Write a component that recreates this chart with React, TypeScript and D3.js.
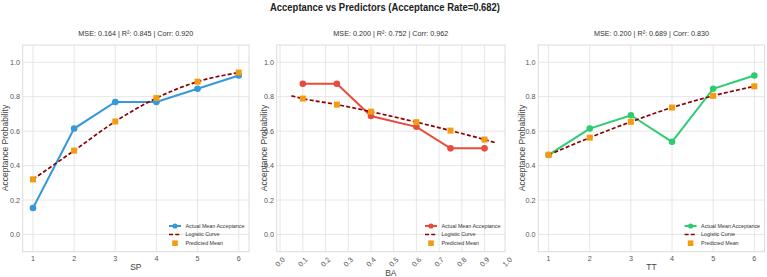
import React from "react";
import * as d3 from "d3";

// values
const spX = [1, 2, 3, 4, 5, 6];
const spActual = [0.154, 0.615, 0.769, 0.769, 0.846, 0.923];
const spPred = [0.32, 0.487, 0.656, 0.792, 0.887, 0.94];

const baX = [0.1, 0.25, 0.4, 0.6, 0.75, 0.9];
const baActual = [0.875, 0.875, 0.688, 0.625, 0.5, 0.5];
const baPred = [0.789, 0.754, 0.713, 0.652, 0.603, 0.551];
const baCurveX = [0.05, 0.1, 0.25, 0.4, 0.6, 0.75, 0.9, 0.95];
const baCurveY = [0.805, 0.789, 0.754, 0.713, 0.652, 0.603, 0.551, 0.532];

const ttX = [1, 2, 3, 4, 5, 6];
const ttActual = [0.462, 0.615, 0.692, 0.538, 0.846, 0.923];
const ttPred = [0.462, 0.562, 0.654, 0.737, 0.805, 0.86];

const intTicks = [1, 2, 3, 4, 5, 6];
const baTicks = [0, 0.1, 0.2, 0.3, 0.4, 0.5, 0.6, 0.7, 0.8, 0.9, 1.0];
const yTicks = [0, 0.2, 0.4, 0.6, 0.8, 1.0];

const mainTitle = "Acceptance vs Predictors (Acceptance Rate=0.682)";
const legendLabels = ["Actual Mean Acceptance", "Logistic Curve", "Predicted Mean"];

const FONT = "'Liberation Sans', Arial, sans-serif";
const W = 767, H = 277;
const TOP = 45, BOTTOM = 251.7;

const panels = [
  {
    name: "SP", color: "#3498db", left: 22.7, right: 249, domain: [0.75, 6.25],
    ticks: intTicks, rotate: false, x: spX, actual: spActual, pred: spPred,
    curveX: spX, curveY: spPred, sub: "MSE: 0.164 | R\u00b2: 0.845 | Corr: 0.920", ylabX: 5.5,
  },
  {
    name: "BA", color: "#e74c3c", left: 276.7, right: 505, domain: [-0.015, 0.99],
    ticks: baTicks, rotate: true, x: baX, actual: baActual, pred: baPred,
    curveX: baCurveX, curveY: baCurveY, sub: "MSE: 0.200 | R\u00b2: 0.752 | Corr: 0.962", ylabX: 264.3,
  },
  {
    name: "TT", color: "#2ecc71", left: 538.3, right: 764.6, domain: [0.75, 6.25],
    ticks: intTicks, rotate: false, x: ttX, actual: ttActual, pred: ttPred,
    curveX: ttX, curveY: ttPred, sub: "MSE: 0.200 | R\u00b2: 0.689 | Corr: 0.830", ylabX: 521.7,
  },
];

const y = d3.scaleLinear().domain([-0.1, 1.1]).range([BOTTOM, TOP]);

function Panel({ p }: { p: any }) {
  const x = d3.scaleLinear().domain(p.domain).range([p.left, p.right]);
  const actualLine = d3.line<number>().x((d, i) => x(p.x[i])).y(d => y(d))(p.actual);
  const curve = d3.line<number>()
    .x((d, i) => x(p.curveX[i]))
    .y(d => y(d))
    .curve(d3.curveMonotoneX)(p.curveY);
  const cx = (p.left + p.right) / 2;
  const lx = p.right - 80;
  const rows = [226, 234.5, 243.2];
  return (
    <g>
      {/* grid */}
      {p.ticks.filter((t: number) => x(t) > p.left && x(t) < p.right).map((t: number) => (
        <line key={"gx" + t} x1={x(t)} x2={x(t)} y1={TOP} y2={BOTTOM} stroke="#e3e3e3" strokeWidth={0.9} />
      ))}
      {yTicks.map(t => (
        <line key={"gy" + t} x1={p.left} x2={p.right} y1={y(t)} y2={y(t)} stroke="#e3e3e3" strokeWidth={0.9} />
      ))}
      <rect x={p.left} y={TOP} width={p.right - p.left} height={BOTTOM - TOP} fill="none" stroke="#dcdcdc" strokeWidth={1} />

      {/* tick labels */}
      {yTicks.map(t => (
        <text key={"ty" + t} x={p.left - 2.7} y={y(t)} dy="0.35em" textAnchor="end" fontSize={7.2} fill="#555">
          {t.toFixed(1)}
        </text>
      ))}
      {p.ticks.map((t: number) =>
        p.rotate ? (
          <text key={"tx" + t} transform={`translate(${x(t)},${262}) rotate(-45)`} textAnchor="middle" dy="0.35em" fontSize={7.2} fill="#555">
            {t.toFixed(1)}
          </text>
        ) : (
          <text key={"tx" + t} x={x(t)} y={258.5} dy="0.35em" textAnchor="middle" fontSize={7.2} fill="#555">
            {t}
          </text>
        )
      )}
      <text x={cx} y={p.rotate ? 272.7 : 266.7} dy="0.35em" textAnchor="middle" fontSize={8.5} fill="#444">{p.name}</text>
      <text transform={`translate(${p.ylabX},148) rotate(-90)`} textAnchor="middle" dy="0.35em" fontSize={8.5} fill="#444">
        Acceptance Probability
      </text>
      <text x={cx} y={36} textAnchor="middle" fontSize={8} fill="#333" textLength={115} lengthAdjust="spacingAndGlyphs">
        {p.sub}
      </text>

      {/* marks */}
      <path d={actualLine || ""} fill="none" stroke={p.color} strokeWidth={2} />
      {p.actual.map((v: number, i: number) => (
        <circle key={"c" + i} cx={x(p.x[i])} cy={y(v)} r={3.3} fill={p.color} />
      ))}
      <path d={curve || ""} fill="none" stroke="#8b0000" strokeWidth={1.7} strokeDasharray="4,2.2" />
      {p.pred.map((v: number, i: number) => (
        <rect key={"s" + i} x={x(p.x[i]) - 3} y={y(v) - 3} width={6} height={6} fill="#f39c12" />
      ))}

      {/* legend */}
      <line x1={lx} x2={lx + 12} y1={rows[0]} y2={rows[0]} stroke={p.color} strokeWidth={2} />
      <circle cx={lx + 6} cy={rows[0]} r={2.6} fill={p.color} />
      <line x1={lx} x2={lx + 12} y1={rows[1]} y2={rows[1]} stroke="#8b0000" strokeWidth={1.7} strokeDasharray="4,2.2" />
      <rect x={lx + 3.2} y={rows[2] - 2.8} width={5.6} height={5.6} fill="#f39c12" />
      {legendLabels.map((l, i) => (
        <text key={l} x={lx + 16.5} y={rows[i]} dy="0.35em" fontSize={5.7} fill="#333"
          textLength={[59, 34, 37.5][i]} lengthAdjust="spacingAndGlyphs">
          {l}
        </text>
      ))}
    </g>
  );
}

export default function App() {
  return (
    <svg width={W} height={H} style={{ position: "absolute", left: 0, top: 0, background: "#fff" }} fontFamily={FONT}>
      <rect width={W} height={H} fill="#fff" />
      <text x={385} y={10.7} textAnchor="middle" fontSize={11} fontWeight="bold" fill="#222"
        textLength={230} lengthAdjust="spacingAndGlyphs">
        {mainTitle}
      </text>
      {panels.map(p => <Panel key={p.name} p={p} />)}
    </svg>
  );
}
